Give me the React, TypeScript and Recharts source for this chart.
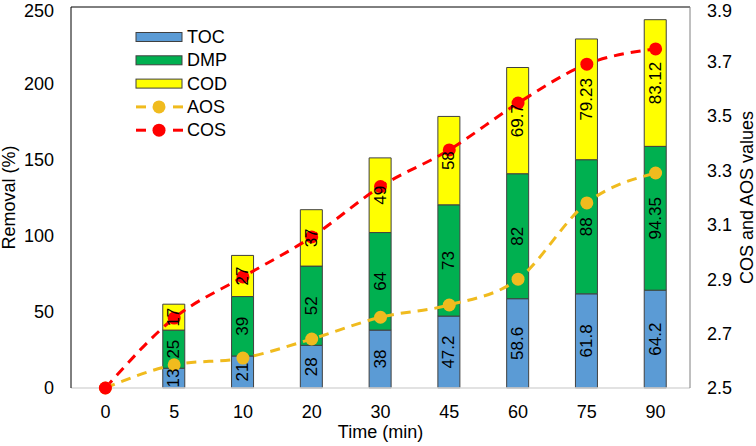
import React from "react";
import {
  Bar,
  ComposedChart,
  LabelList,
  Line,
  ReferenceLine,
  XAxis,
  YAxis,
} from "recharts";

// Removal (%) stacked per time step, plus oxidation state lines on the right axis
const times = ["0", "5", "10", "20", "30", "45", "60", "75", "90"];
const toc = [0, 13, 21, 28, 38, 47.2, 58.6, 61.8, 64.2];
const dmp = [0, 25, 39, 52, 64, 73, 82, 88, 94.35];
const cod = [0, 17, 27, 37, 49, 58, 69.7, 79.23, 83.12];
const aos = [2.5, 2.585, 2.61, 2.68, 2.76, 2.805, 2.9, 3.18, 3.29];
const cos = [2.5, 2.757, 2.908, 3.055, 3.24, 3.375, 3.547, 3.69, 3.746];

const leftTicks = [0, 50, 100, 150, 200, 250];
const rightTicks = [2.5, 2.7, 2.9, 3.1, 3.3, 3.5, 3.7, 3.9];

const data = times.map((t, i) => ({
  time: t,
  TOC: toc[i],
  DMP: dmp[i],
  COD: cod[i],
  AOS: aos[i],
  COS: cos[i],
}));

const FONT = "Arial, 'Liberation Sans', sans-serif";
const COLORS = {
  toc: "#5B9BD5",
  dmp: "#00B050",
  cod: "#FFFF00",
  aos: "#F0BB1E",
  cos: "#FF0000",
  edge: "#404040",
};

// rotated value label in the middle of each stacked segment
const VerticalLabel = (props: any) => {
  const { x, y, width, height, value } = props;
  if (!value) return null;
  const cx = Number(x) + Number(width) / 2;
  const cy = Number(y) + Number(height) / 2;
  return (
    <text
      x={cx}
      y={cy}
      transform={`rotate(-90 ${cx} ${cy})`}
      textAnchor="middle"
      dominantBaseline="central"
      fontSize={17}
      fontFamily={FONT}
      fill="#000"
    >
      {value}
    </text>
  );
};

// y-axis titles, rotated, placed by hand at the page edges
const SideTitle = ({ cx, value }: { cx: number; value: string }) => (props: any) => {
  const vb = props.viewBox || {};
  const cy = Number(vb.y) + Number(vb.height) / 2;
  return (
    <text
      x={cx}
      y={cy}
      transform={`rotate(-90 ${cx} ${cy})`}
      textAnchor="middle"
      dominantBaseline="central"
      fontSize={18}
      fontFamily={FONT}
      fill="#000"
    >
      {value}
    </text>
  );
};

const legendItems = [
  { name: "TOC", type: "bar", color: COLORS.toc },
  { name: "DMP", type: "bar", color: COLORS.dmp },
  { name: "COD", type: "bar", color: COLORS.cod },
  { name: "AOS", type: "line", color: COLORS.aos },
  { name: "COS", type: "line", color: COLORS.cos },
];

const LegendBox = () => (
  <svg
    width={130}
    height={130}
    style={{ position: "absolute", left: 135, top: 25, overflow: "visible" }}
  >
    {legendItems.map((it, i) => {
      const y = 12 + i * 23.3;
      return (
        <g key={it.name}>
          {it.type === "bar" ? (
            <rect
              x={1}
              y={y - 4.5}
              width={46}
              height={9}
              fill={it.color}
              stroke={COLORS.edge}
              strokeWidth={1}
            />
          ) : (
            <g>
              <line x1={1} x2={11} y1={y} y2={y} stroke={it.color} strokeWidth={3} />
              <line x1={38} x2={48} y1={y} y2={y} stroke={it.color} strokeWidth={3} />
              <circle cx={24} cy={y} r={6.5} fill={it.color} />
            </g>
          )}
          <text
            x={52}
            y={y}
            dominantBaseline="central"
            fontSize={18}
            fontFamily={FONT}
            fill="#000"
          >
            {it.name}
          </text>
        </g>
      );
    })}
  </svg>
);

export default function App() {
  return (
    <div
      style={{
        position: "absolute",
        left: 0,
        top: 0,
        width: 756,
        height: 446,
        background: "#fff",
      }}
    >
      <ComposedChart
        width={756}
        height={446}
        data={data}
        margin={{ top: 7, right: 0, bottom: 0, left: 0 }}
        barSize={22}
      >
        <XAxis
          dataKey="time"
          height={58}
          tick={{ fontSize: 18, fill: "#000", fontFamily: FONT }}
          tickLine={false}
          tickMargin={11}
          axisLine={{ stroke: "#D9D9D9", strokeWidth: 1.5 }}
          label={{
            value: "Time (min)",
            position: "insideBottom",
            offset: 8,
            fontSize: 18,
            fill: "#000",
            fontFamily: FONT,
          }}
        />
        <YAxis
          yAxisId="left"
          domain={[0, 250]}
          ticks={leftTicks}
          width={71}
          tick={{ fontSize: 18, fill: "#000", fontFamily: FONT }}
          tickLine={false}
          tickMargin={11}
          axisLine={{ stroke: "#000" }}
          label={{ content: SideTitle({ cx: 9, value: "Removal (%)" }) }}
        />
        <YAxis
          yAxisId="right"
          orientation="right"
          domain={[2.5, 3.9]}
          ticks={rightTicks}
          tickFormatter={(v: number) => v.toFixed(1)}
          width={66}
          tick={{ fontSize: 18, fill: "#000", fontFamily: FONT }}
          tickLine={false}
          tickMargin={11}
          axisLine={{ stroke: "#808080" }}
          label={{ content: SideTitle({ cx: 747, value: "COS and AOS values" }) }}
        />
        <ReferenceLine yAxisId="left" y={250} stroke="#000" strokeWidth={1} />

        <Bar
          yAxisId="left"
          dataKey="TOC"
          stackId="r"
          fill={COLORS.toc}
          stroke={COLORS.edge}
          strokeWidth={1}
          isAnimationActive={false}
        >
          <LabelList dataKey="TOC" content={<VerticalLabel />} />
        </Bar>
        <Bar
          yAxisId="left"
          dataKey="DMP"
          stackId="r"
          fill={COLORS.dmp}
          stroke={COLORS.edge}
          strokeWidth={1}
          isAnimationActive={false}
        >
          <LabelList dataKey="DMP" content={<VerticalLabel />} />
        </Bar>
        <Bar
          yAxisId="left"
          dataKey="COD"
          stackId="r"
          fill={COLORS.cod}
          stroke={COLORS.edge}
          strokeWidth={1}
          isAnimationActive={false}
        >
          <LabelList dataKey="COD" content={<VerticalLabel />} />
        </Bar>

        <Line
          yAxisId="right"
          type="monotone"
          dataKey="AOS"
          stroke={COLORS.aos}
          strokeWidth={3}
          strokeDasharray="10 7"
          dot={{ r: 6.5, fill: COLORS.aos, stroke: COLORS.aos, strokeWidth: 0, strokeDasharray: "" }}
          isAnimationActive={false}
        />
        <Line
          yAxisId="right"
          type="monotone"
          dataKey="COS"
          stroke={COLORS.cos}
          strokeWidth={3}
          strokeDasharray="10 7"
          dot={{ r: 6.5, fill: COLORS.cos, stroke: COLORS.cos, strokeWidth: 0, strokeDasharray: "" }}
          isAnimationActive={false}
        />
      </ComposedChart>
      <LegendBox />
    </div>
  );
}
